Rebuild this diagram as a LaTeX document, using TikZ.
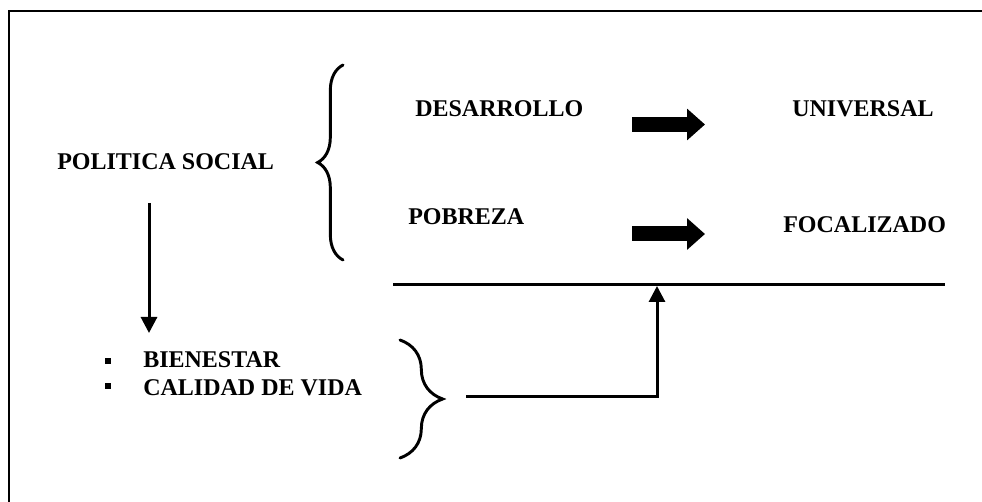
\documentclass[tikz,border=0pt]{standalone}
\usepackage{fontspec}
\setmainfont{Liberation Serif}
\usetikzlibrary{arrows.meta, decorations.pathreplacing}

\begin{document}
\begin{tikzpicture}[x=0.75pt, y=-0.75pt,
    term/.style={anchor=base west, inner sep=0pt, font=\fontsize{18}{21}\selectfont\bfseries},
    bulletmark/.style={fill, inner sep=0pt, minimum size=4.5pt},
    bigarrow/.style={line width=11.25pt, -{Triangle[length=13.5pt, width=23pt]}},
    thinarrow/.style={line width=2.25pt, -{Triangle[length=12pt, width=12pt]}},
    curly/.style={line width=2.2pt, line cap=round, decorate, decoration={brace, amplitude=#1}}]
  \useasboundingbox (0,0) rectangle (982,502);

  % frame
  \draw [line width=1.5pt] (9,502) -- (9,11.5) -- (982,11.5);

  \node (pol) [term] at (57,170) {POLITICA SOCIAL};
  \node (des) [term] at (415,117) {DESARROLLO};
  \node (univ) [term] at (792,117) {UNIVERSAL};
  \node (pob) [term] at (408,225) {POBREZA};
  \node (foc) [term] at (783,233) {FOCALIZADO};
  \node (bien) [term] at (143,368) {BIENESTAR};
  \node (cal) [term] at (143,395) {CALIDAD DE VIDA};
  \node (b1) [bulletmark] at (107.5,361) {};
  \node (b2) [bulletmark] at (107.5,386) {};

  \coordinate (desA) at (632,124.5);
  \coordinate (univA) at (705,124.5);
  \coordinate (pobA) at (632,234);
  \coordinate (focA) at (705,234);
  \coordinate (polA) at (149,203);
  \coordinate (bienA) at (149,333);
  \coordinate (barL) at (393,285);
  \coordinate (barR) at (945,285);
  \coordinate (barM) at (657,286);
  \coordinate (linkA) at (466,396);

  \draw [curly=19pt] (343,260) -- (343,65);
  \draw [curly=32pt] (400,340) -- (400,458);

  \draw [bigarrow] (desA) -- (univA);
  \draw [bigarrow] (pobA) -- (focA);
  \draw [thinarrow] (polA) -- (bienA);
  \draw [line width=2.25pt] (barL) -- (barR);
  \draw [thinarrow] (linkA) -| (barM);
\end{tikzpicture}
\end{document}
